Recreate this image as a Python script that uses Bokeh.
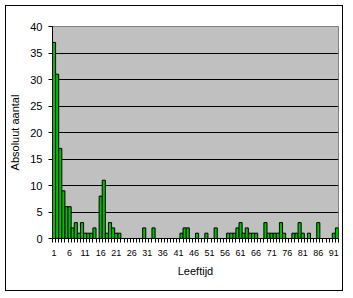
from bokeh.plotting import figure
from bokeh.models import Range1d, FixedTicker, ColumnDataSource
from bokeh.embed import file_html
from bokeh.resources import INLINE

# Data: age categories 1..92 and absolute counts
ages = list(range(1, 93))
counts = [37, 31, 17, 9, 6, 6, 2, 3, 1, 3,
          1, 1, 1, 2, 0, 8, 11, 1, 3, 2,
          1, 1, 0, 0, 0, 0, 0, 0, 0, 2,
          0, 0, 2, 0, 0, 0, 0, 0, 0, 0,
          0, 1, 2, 2, 0, 0, 1, 0, 0, 1,
          0, 0, 2, 0, 0, 0, 1, 1, 1, 2,
          3, 1, 2, 1, 1, 1, 0, 0, 3, 1,
          1, 1, 1, 3, 1, 0, 0, 1, 1, 3,
          1, 0, 1, 0, 0, 3, 0, 0, 0, 0,
          1, 2]
x_tick_labels = [1, 6, 11, 16, 21, 26, 31, 36, 41, 46, 51, 56, 61, 66, 71, 76, 81, 86, 91]
y_ticks = [0, 5, 10, 15, 20, 25, 30, 35, 40]
x_title = "Leeftijd"
y_title = "Absoluut aantal"

FONT = "Liberation Sans"

nz = [(a, c) for a, c in zip(ages, counts) if c > 0]
src = ColumnDataSource(dict(x=[a for a, _ in nz], top=[c for _, c in nz]))

p = figure(width=338, height=286, output_backend="svg", toolbar_location=None,
           x_range=Range1d(ages[0] - 0.5, ages[-1] + 0.5),
           y_range=Range1d(y_ticks[0], y_ticks[-1]),
           min_border_left=44, min_border_right=6, min_border_top=20, min_border_bottom=54)
p.margin = (5, 0, 0, 5)
p.styles = {"border": "1px solid black"}
p.background_fill_color = "#C0C0C0"
p.border_fill_color = "white"
p.outline_line_color = "#808080"
p.outline_line_width = 1

p.vbar(x="x", top="top", width=1, bottom=0, source=src,
       fill_color="#00C000", line_color="black", line_width=1)

# grid
p.xgrid.grid_line_color = None
p.ygrid.ticker = FixedTicker(ticks=y_ticks[1:-1])
p.ygrid.grid_line_color = "black"
p.ygrid.grid_line_width = 1

# x axis
xa = p.xaxis[0]
xa.ticker = FixedTicker(ticks=x_tick_labels, minor_ticks=[a - 0.5 for a in ages] + [ages[-1] + 0.5])
xa.major_tick_line_color = None
xa.minor_tick_line_color = "black"
xa.minor_tick_out = 4
xa.minor_tick_in = 0
xa.major_label_standoff = 5
xa.major_label_text_font = FONT
xa.major_label_text_font_size = "9px"
xa.major_label_text_color = "black"
xa.axis_line_color = "black"
xa.axis_label = x_title
xa.axis_label_text_font = FONT
xa.axis_label_text_font_size = "11px"
xa.axis_label_text_font_style = "normal"
xa.axis_label_text_color = "black"
xa.axis_label_standoff = 6

# y axis
ya = p.yaxis[0]
ya.ticker = FixedTicker(ticks=y_ticks)
ya.major_tick_out = 4
ya.major_tick_in = 0
ya.minor_tick_line_color = None
ya.major_tick_line_color = "black"
ya.major_label_standoff = 6
ya.major_label_text_font = FONT
ya.major_label_text_font_size = "11px"
ya.major_label_text_color = "black"
ya.axis_line_color = "black"
ya.axis_label = y_title
ya.axis_label_text_font = FONT
ya.axis_label_text_font_size = "11px"
ya.axis_label_text_font_style = "normal"
ya.axis_label_text_color = "black"
ya.axis_label_standoff = 6

open("out.html", "w").write(file_html(p, INLINE))
